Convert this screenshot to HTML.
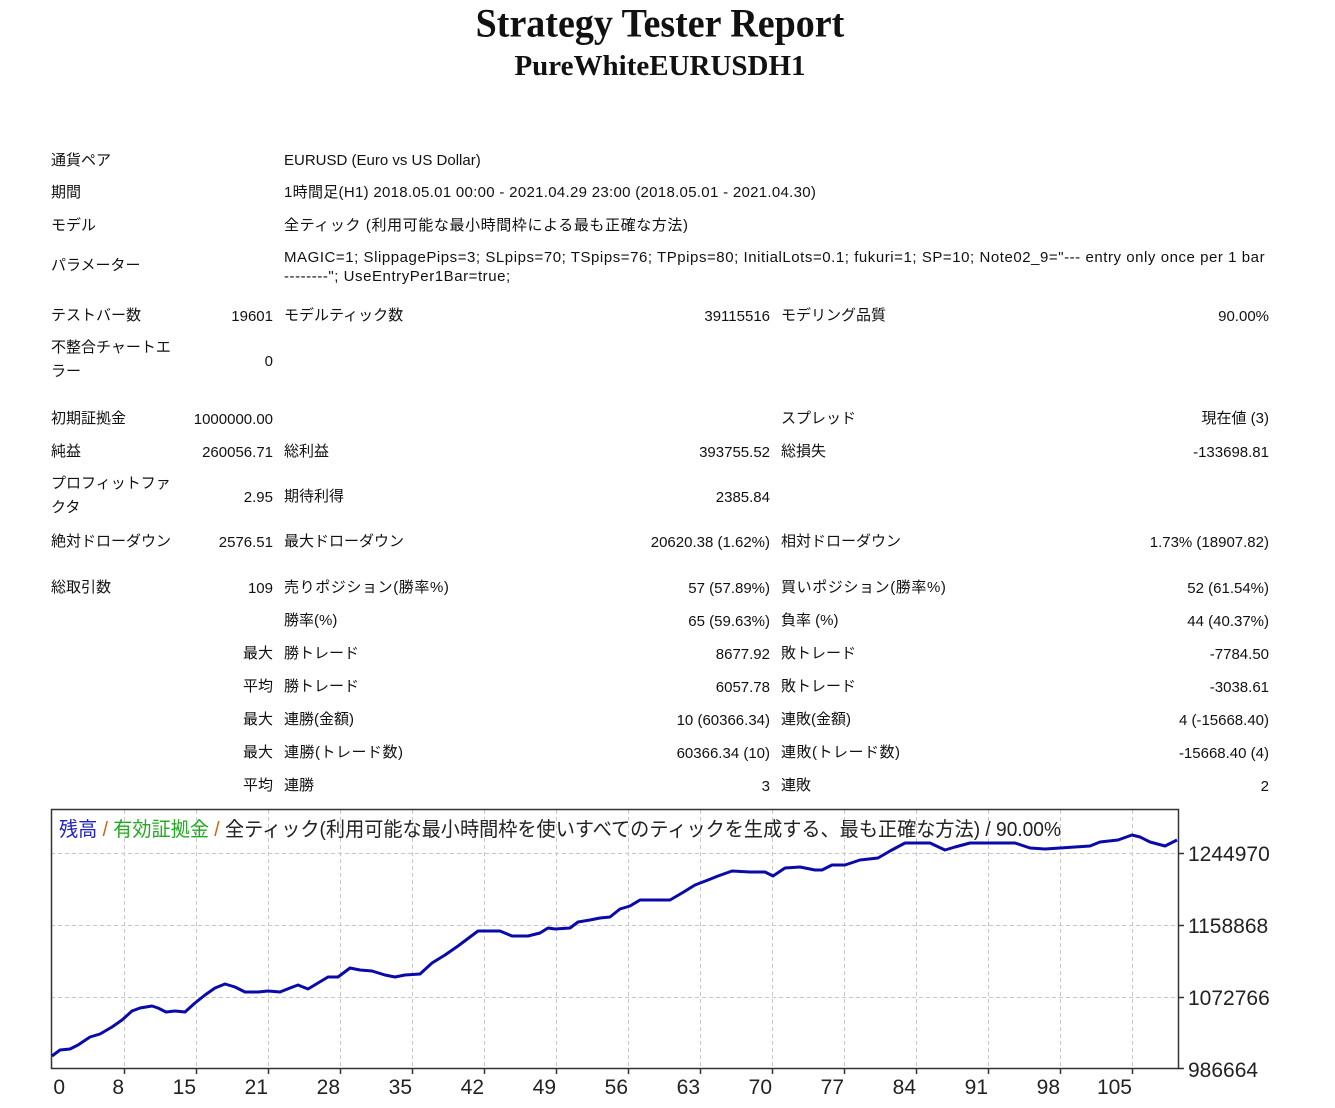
<!DOCTYPE html>
<html><head><meta charset="utf-8">
<style>
html,body{margin:0;padding:0;background:#fff;}
body{width:1335px;height:1108px;position:relative;overflow:hidden;font-family:"Liberation Sans","Noto Sans CJK JP",sans-serif;font-size:15px;color:#111;}
.t{position:absolute;line-height:18px;white-space:nowrap;margin-top:1px;}
.h1{position:absolute;left:0;width:1320px;text-align:center;font-family:"Liberation Serif",serif;font-weight:bold;white-space:nowrap;}
</style></head><body>
<div class="h1" style="top:2px;font-size:38px;line-height:44px;transform:scaleY(1.05)">Strategy Tester Report</div>
<div class="h1" style="top:48px;font-size:29px;line-height:36px;">PureWhiteEURUSDH1</div>

<div class="t" style="left:51px;top:151px">通貨ペア</div>
<div class="t" style="left:284px;top:151px">EURUSD (Euro vs US Dollar)</div>
<div class="t" style="left:51px;top:183px">期間</div>
<div class="t" style="left:284px;top:183px;letter-spacing:0.3px">1時間足(H1) 2018.05.01 00:00 - 2021.04.29 23:00 (2018.05.01 - 2021.04.30)</div>
<div class="t" style="left:51px;top:216px">モデル</div>
<div class="t" style="left:284px;top:216px;letter-spacing:0.6px">全ティック (利用可能な最小時間枠による最も正確な方法)</div>
<div class="t" style="left:51px;top:256px">パラメーター</div>
<div class="t" style="left:284px;top:248px;letter-spacing:0.55px">MAGIC=1; SlippagePips=3; SLpips=70; TSpips=76; TPpips=80; InitialLots=0.1; fukuri=1; SP=10; Note02_9="--- entry only once per 1 bar</div>
<div class="t" style="left:284px;top:267px;letter-spacing:0.55px">--------"; UseEntryPer1Bar=true;</div>

<div class="t" style="left:51px;top:306px">テストバー数</div>
<div class="t" style="right:1062px;top:307px">19601</div>
<div class="t" style="left:284px;top:306px">モデルティック数</div>
<div class="t" style="right:565px;top:307px">39115516</div>
<div class="t" style="left:781px;top:306px">モデリング品質</div>
<div class="t" style="right:66px;top:307px">90.00%</div>

<div class="t" style="left:51px;top:338px">不整合チャートエ</div>
<div class="t" style="left:51px;top:362px">ラー</div>
<div class="t" style="right:1062px;top:352px">0</div>

<div class="t" style="left:51px;top:409px">初期証拠金</div>
<div class="t" style="right:1062px;top:410px">1000000.00</div>
<div class="t" style="left:781px;top:409px">スプレッド</div>
<div class="t" style="right:66px;top:409px">現在値 (3)</div>

<div class="t" style="left:51px;top:442px">純益</div>
<div class="t" style="right:1062px;top:443px">260056.71</div>
<div class="t" style="left:284px;top:442px">総利益</div>
<div class="t" style="right:565px;top:443px">393755.52</div>
<div class="t" style="left:781px;top:442px">総損失</div>
<div class="t" style="right:66px;top:443px">-133698.81</div>

<div class="t" style="left:51px;top:474px">プロフィットファ</div>
<div class="t" style="left:51px;top:498px">クタ</div>
<div class="t" style="right:1062px;top:488px">2.95</div>
<div class="t" style="left:284px;top:487px">期待利得</div>
<div class="t" style="right:565px;top:488px">2385.84</div>

<div class="t" style="left:51px;top:532px">絶対ドローダウン</div>
<div class="t" style="right:1062px;top:533px">2576.51</div>
<div class="t" style="left:284px;top:532px">最大ドローダウン</div>
<div class="t" style="right:565px;top:533px">20620.38 (1.62%)</div>
<div class="t" style="left:781px;top:532px">相対ドローダウン</div>
<div class="t" style="right:66px;top:533px">1.73% (18907.82)</div>

<div class="t" style="left:51px;top:578px">総取引数</div>
<div class="t" style="right:1062px;top:579px">109</div>
<div class="t" style="left:284px;top:578px;letter-spacing:0.6px">売りポジション(勝率%)</div>
<div class="t" style="right:565px;top:579px">57 (57.89%)</div>
<div class="t" style="left:781px;top:578px;letter-spacing:0.6px">買いポジション(勝率%)</div>
<div class="t" style="right:66px;top:579px">52 (61.54%)</div>

<div class="t" style="left:284px;top:611px">勝率(%)</div>
<div class="t" style="right:565px;top:612px">65 (59.63%)</div>
<div class="t" style="left:781px;top:611px">負率 (%)</div>
<div class="t" style="right:66px;top:612px">44 (40.37%)</div>

<div class="t" style="right:1062px;top:644px">最大</div>
<div class="t" style="left:284px;top:644px">勝トレード</div>
<div class="t" style="right:565px;top:645px">8677.92</div>
<div class="t" style="left:781px;top:644px">敗トレード</div>
<div class="t" style="right:66px;top:645px">-7784.50</div>

<div class="t" style="right:1062px;top:677px">平均</div>
<div class="t" style="left:284px;top:677px">勝トレード</div>
<div class="t" style="right:565px;top:678px">6057.78</div>
<div class="t" style="left:781px;top:677px">敗トレード</div>
<div class="t" style="right:66px;top:678px">-3038.61</div>

<div class="t" style="right:1062px;top:710px">最大</div>
<div class="t" style="left:284px;top:710px">連勝(金額)</div>
<div class="t" style="right:565px;top:711px">10 (60366.34)</div>
<div class="t" style="left:781px;top:710px">連敗(金額)</div>
<div class="t" style="right:66px;top:711px">4 (-15668.40)</div>

<div class="t" style="right:1062px;top:743px">最大</div>
<div class="t" style="left:284px;top:743px;letter-spacing:0.5px">連勝(トレード数)</div>
<div class="t" style="right:565px;top:744px">60366.34 (10)</div>
<div class="t" style="left:781px;top:743px;letter-spacing:0.5px">連敗(トレード数)</div>
<div class="t" style="right:66px;top:744px">-15668.40 (4)</div>

<div class="t" style="right:1062px;top:776px">平均</div>
<div class="t" style="left:284px;top:776px">連勝</div>
<div class="t" style="right:565px;top:777px">3</div>
<div class="t" style="left:781px;top:776px">連敗</div>
<div class="t" style="right:66px;top:777px">2</div>

<svg style="position:absolute;left:0;top:0" width="1335" height="1108">
<g stroke="#c8c8c8" stroke-width="1" stroke-dasharray="4,3" fill="none">
<line x1="51" y1="853.5" x2="1178" y2="853.5"/>
<line x1="51" y1="925.5" x2="1178" y2="925.5"/>
<line x1="51" y1="997.5" x2="1178" y2="997.5"/>
<line x1="124.5" y1="810" x2="124.5" y2="1068"/>
<line x1="196.5" y1="810" x2="196.5" y2="1068"/>
<line x1="268.5" y1="810" x2="268.5" y2="1068"/>
<line x1="340.5" y1="810" x2="340.5" y2="1068"/>
<line x1="412.5" y1="810" x2="412.5" y2="1068"/>
<line x1="484.5" y1="810" x2="484.5" y2="1068"/>
<line x1="556.5" y1="810" x2="556.5" y2="1068"/>
<line x1="628.5" y1="810" x2="628.5" y2="1068"/>
<line x1="700.5" y1="810" x2="700.5" y2="1068"/>
<line x1="772.5" y1="810" x2="772.5" y2="1068"/>
<line x1="844.5" y1="810" x2="844.5" y2="1068"/>
<line x1="916.5" y1="810" x2="916.5" y2="1068"/>
<line x1="988.5" y1="810" x2="988.5" y2="1068"/>
<line x1="1060.5" y1="810" x2="1060.5" y2="1068"/>
<line x1="1132.5" y1="810" x2="1132.5" y2="1068"/>
</g>
<rect x="51.5" y="809.5" width="1127" height="259" fill="none" stroke="#333" stroke-width="1.5"/>
<g stroke="#333" stroke-width="1.5">
<line x1="1178" y1="853.5" x2="1184" y2="853.5"/><line x1="1178" y1="925.5" x2="1184" y2="925.5"/>
<line x1="1178" y1="997.5" x2="1184" y2="997.5"/><line x1="1178" y1="1068.5" x2="1184" y2="1068.5"/>
<line x1="124.5" y1="1068" x2="124.5" y2="1074"/><line x1="196.5" y1="1068" x2="196.5" y2="1074"/>
<line x1="268.5" y1="1068" x2="268.5" y2="1074"/><line x1="340.5" y1="1068" x2="340.5" y2="1074"/>
<line x1="412.5" y1="1068" x2="412.5" y2="1074"/><line x1="484.5" y1="1068" x2="484.5" y2="1074"/>
<line x1="556.5" y1="1068" x2="556.5" y2="1074"/><line x1="628.5" y1="1068" x2="628.5" y2="1074"/>
<line x1="700.5" y1="1068" x2="700.5" y2="1074"/><line x1="772.5" y1="1068" x2="772.5" y2="1074"/>
<line x1="844.5" y1="1068" x2="844.5" y2="1074"/><line x1="916.5" y1="1068" x2="916.5" y2="1074"/>
<line x1="988.5" y1="1068" x2="988.5" y2="1074"/><line x1="1060.5" y1="1068" x2="1060.5" y2="1074"/>
<line x1="1132.5" y1="1068" x2="1132.5" y2="1074"/>
</g>
<polyline fill="none" stroke="#0a0aaa" stroke-width="3" stroke-linejoin="round" points="52,1056 60,1050 70,1049 78,1045 90,1037 100,1034 112,1027 122,1020 132,1011 140,1008 152,1006 158,1008 166,1012 175,1011 185,1012 195,1003 205,995 215,988 225,984 235,987 245,992 258,992 268,991 280,992 290,988 298,985 308,989 318,983 328,977 338,977 350,968 360,970 372,971 385,975 395,977 405,975 420,974 432,963 445,955 458,946 470,937 478,931 495,931 500,931 512,936 528,936 540,933 548,928 555,929 570,928 578,922 590,920 600,918 610,917 620,909 630,906 640,900 670,900 682,893 695,885 708,880 718,876 732,871 750,872 765,872 773,876 785,868 800,867 815,870 822,870 832,865 845,865 860,860 878,858 890,851 905,843 930,843 945,850 955,847 970,843 995,843 1015,843 1030,848 1045,849 1060,848 1075,847 1090,846 1100,842 1118,840 1132,835 1140,837 1150,842 1165,846 1177,840"/>
<g font-family="Liberation Sans, Noto Sans CJK JP, sans-serif" font-size="21" fill="#222">
<text x="1188" y="861">1244970</text>
<text x="1188" y="933">1158868</text>
<text x="1188" y="1005">1072766</text>
<text x="1188" y="1077">986664</text>
<g text-anchor="end">
<text x="65" y="1094">0</text>
<text x="124" y="1094">8</text>
<text x="196" y="1094">15</text>
<text x="268" y="1094">21</text>
<text x="340" y="1094">28</text>
<text x="412" y="1094">35</text>
<text x="484" y="1094">42</text>
<text x="556" y="1094">49</text>
<text x="628" y="1094">56</text>
<text x="700" y="1094">63</text>
<text x="772" y="1094">70</text>
<text x="844" y="1094">77</text>
<text x="916" y="1094">84</text>
<text x="988" y="1094">91</text>
<text x="1060" y="1094">98</text>
<text x="1132" y="1094">105</text>
</g>
<text x="59" y="836" font-size="20" textLength="1002" lengthAdjust="spacingAndGlyphs"><tspan fill="#2222bb">残高</tspan><tspan fill="#cc6600"> / </tspan><tspan fill="#22aa22">有効証拠金</tspan><tspan fill="#cc6600"> / </tspan><tspan fill="#222">全ティック(利用可能な最小時間枠を使いすべてのティックを生成する、最も正確な方法) / 90.00%</tspan></text>
</g>
</svg>
</body></html>
